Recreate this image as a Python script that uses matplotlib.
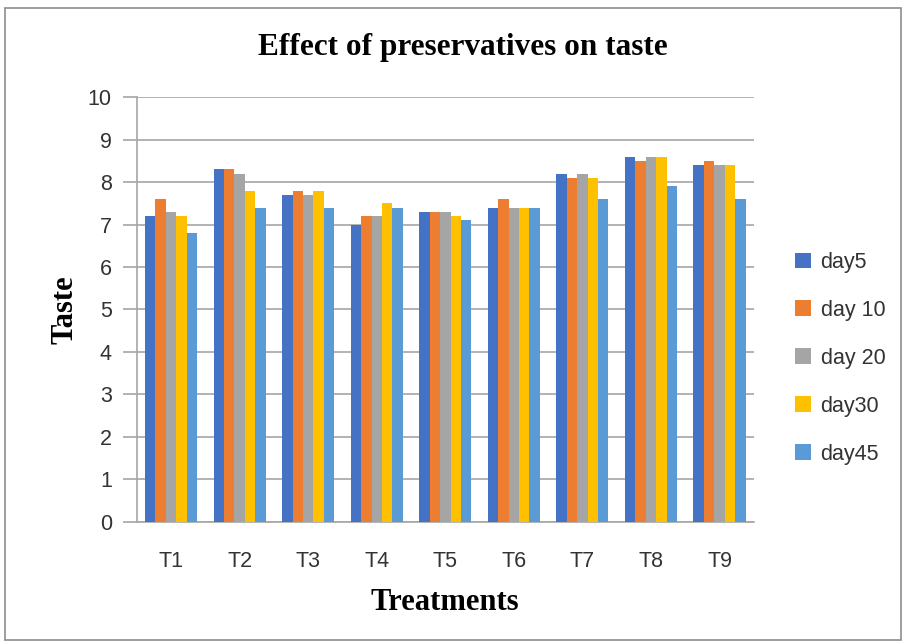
import numpy as np
import matplotlib
matplotlib.use("Agg")
import matplotlib.pyplot as plt
from matplotlib.patches import Rectangle

treatments = ["T1", "T2", "T3", "T4", "T5", "T6", "T7", "T8", "T9"]
series_names = ["day5", "day 10", "day 20", "day30", "day45"]
day5 = [7.2, 8.3, 7.7, 7.0, 7.3, 7.4, 8.2, 8.6, 8.4]
day10 = [7.6, 8.3, 7.8, 7.2, 7.3, 7.6, 8.1, 8.5, 8.5]
day20 = [7.3, 8.2, 7.7, 7.2, 7.3, 7.4, 8.2, 8.6, 8.4]
day30 = [7.2, 7.8, 7.8, 7.5, 7.2, 7.4, 8.1, 8.6, 8.4]
day45 = [6.8, 7.4, 7.4, 7.4, 7.1, 7.4, 7.6, 7.9, 7.6]
colors = ["#4472C4", "#ED7D31", "#A5A5A5", "#FFC000", "#5B9BD5"]

serif = "Liberation Serif"
sans = "Liberation Sans"


def draw_chart():
    fig = plt.figure(figsize=(9.06, 6.44), dpi=100)
    fig.patches.append(Rectangle((0.006, 0.006), 0.988, 0.982, transform=fig.transFigure,
                                 fill=False, edgecolor="#8c8c8c", linewidth=1.2))
    ax = fig.add_axes([0.151, 0.190, 0.681, 0.659])

    data = [day5, day10, day20, day30, day45]
    x = np.arange(len(treatments))
    width = 0.152
    for i, (vals, name, c) in enumerate(zip(data, series_names, colors)):
        ax.bar(x + (i - 2) * width, vals, width, color=c, label=name, zorder=3)

    ax.set_xlim(-0.5, len(treatments) - 0.5)
    ax.set_ylim(0, 10)
    ax.set_yticks(range(0, 11))
    ax.set_xticks(x)
    ax.set_xticklabels(treatments)
    ax.yaxis.grid(True, color="#a6a6a6", linewidth=1.2, zorder=0)

    for s in ["top", "right"]:
        ax.spines[s].set_visible(False)
    ax.spines["left"].set_color("#a6a6a6")
    ax.spines["bottom"].set_color("#a6a6a6")
    ax.spines["left"].set_linewidth(1.2)
    ax.spines["bottom"].set_linewidth(1.2)
    ax.tick_params(axis="y", length=10, color="#a6a6a6", width=1.2, pad=8,
                   labelsize=15.5, labelcolor="#333333")
    ax.tick_params(axis="x", length=0, pad=21, labelsize=15.5, labelcolor="#333333")
    for lbl in ax.get_xticklabels() + ax.get_yticklabels():
        lbl.set_fontfamily(sans)

    fig.text(0.511, 0.926, "Effect of preservatives on taste", ha="center", va="center",
             fontfamily=serif, fontweight="bold", fontsize=22.5)
    ax.set_xlabel("Treatments", fontfamily=serif, fontweight="bold", fontsize=22, labelpad=12)
    ax.set_ylabel("Taste", fontfamily=serif, fontweight="bold", fontsize=22, labelpad=6)

    ax.legend(loc="center left", bbox_to_anchor=(1.035, 0.385), frameon=False,
              prop={"family": sans, "size": 15.5}, labelspacing=1.25,
              handlelength=0.75, handleheight=0.75, handletextpad=0.45, labelcolor="#333333")
    fig.savefig("out.png", dpi=100)


if __name__ == "__main__":
    draw_chart()
